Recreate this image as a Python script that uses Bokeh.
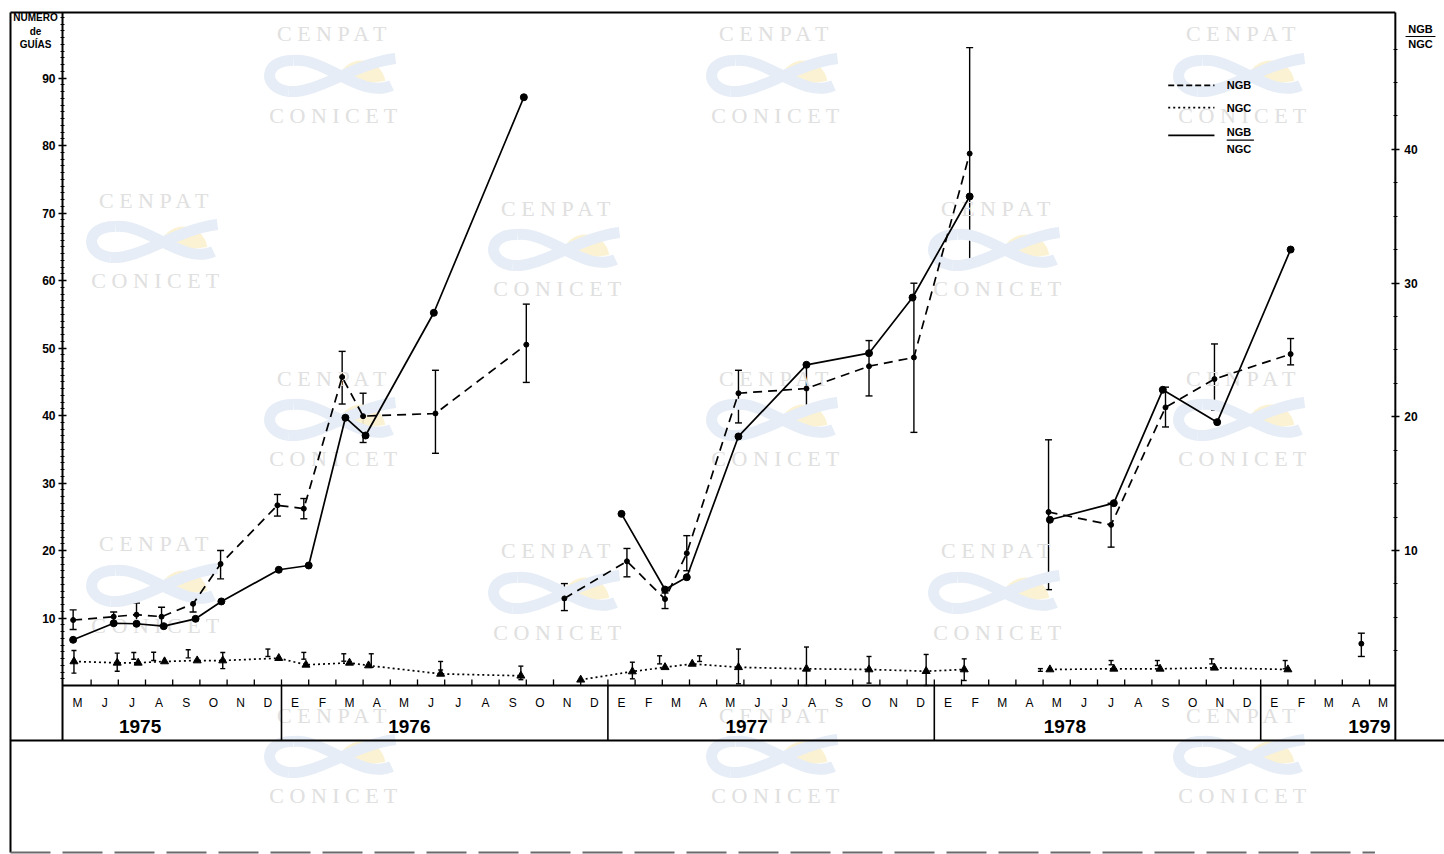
import math
from bokeh.plotting import figure
from bokeh.models import (Range1d, LinearAxis, FixedTicker, ColumnDataSource,
                          Whisker, TeeHead)
from bokeh.core.properties import value
from bokeh.embed import file_html
from bokeh.resources import INLINE

# ---------------- data  (x = months counted from May 1975) ----------------
month_labels = ["M", "J", "J", "A", "S", "O", "N", "D",
                "E", "F", "M", "A", "M", "J", "J", "A", "S", "O", "N", "D",
                "E", "F", "M", "A", "M", "J", "J", "A", "S", "O", "N", "D",
                "E", "F", "M", "A", "M", "J", "J", "A", "S", "O", "N", "D",
                "E", "F", "M", "A", "M"]
year_labels = ["1975", "1976", "1977", "1978", "1979"]
year_label_month = [2.3, 12.2, 24.6, 36.3, 47.5]
year_boundaries = [7.5, 19.5, 31.5, 43.5]

left_ticks = [10, 20, 30, 40, 50, 60, 70, 80, 90]
right_ticks = [10, 20, 30, 40]

# NGB (dashed, left axis) with error bars
ngb_a_x = [-0.16, 1.33, 2.17, 3.09, 4.25, 5.26, 7.35, 8.32, 9.73, 10.50, 13.16, 16.50]
ngb_a = [9.7, 10.2, 10.5, 10.2, 12.1, 18.0, 26.7, 26.2, 45.7, 39.9, 40.3, 50.5]
ngb_a_lo = [8.3, 9.1, 9.1, 8.9, 10.9, 15.8, 25.1, 24.7, 41.7, 36.0, 34.4, 44.9]
ngb_a_hi = [11.2, 10.9, 12.2, 11.6, 13.3, 20.0, 28.3, 27.7, 49.5, 43.3, 46.7, 56.5]

ngb_b_x = [17.90, 20.20, 21.60, 22.40, 24.30, 26.80, 29.10, 30.75, 32.80]
ngb_b = [12.9, 18.4, 12.8, 19.6, 43.3, 44.0, 47.3, 48.6, 78.8]
ngb_b_lo = [11.1, 16.1, 11.4, 17.0, 38.9, 41.2, 42.9, 37.5, 62.7]
ngb_b_hi = [15.1, 20.3, 13.7, 22.2, 46.7, 47.5, 51.1, 59.6, 94.5]

ngb_c_x = [35.70, 38.00, 40.00, 41.80, 44.60]
ngb_c = [25.7, 23.8, 41.2, 45.4, 49.1]
ngb_c_lo = [14.2, 20.5, 38.3, 40.8, 47.5]
ngb_c_hi = [36.4, 27.0, 44.2, 50.6, 51.4]

ngb_d_x = [47.20]
ngb_d = [6.2]
ngb_d_lo = [4.3]
ngb_d_hi = [7.75]

# NGB / NGC ratio (solid, right axis)
ratio_a_x = [-0.16, 1.33, 2.17, 3.17, 4.34, 5.29, 7.40, 8.50, 9.85, 10.59, 13.10, 16.41]
ratio_a = [3.32, 4.56, 4.52, 4.34, 4.89, 6.19, 8.56, 8.88, 19.93, 18.60, 27.78, 43.90]
ratio_b_x = [20.00, 21.60, 22.40, 24.30, 26.80, 29.10, 30.70, 32.80]
ratio_b = [12.74, 7.08, 8.00, 18.53, 23.89, 24.76, 28.92, 36.48]
ratio_c_x = [35.75, 38.10, 39.90, 41.90, 44.60]
ratio_c = [12.30, 13.54, 22.02, 19.60, 32.51]

# NGC (dotted, left axis)
ngc_a_x = [-0.13, 1.46, 2.23, 3.20, 4.40, 5.34, 7.40, 8.40, 10.00, 10.70, 13.35, 16.30]
ngc_a = [3.56, 3.36, 3.36, 3.56, 3.70, 3.70, 4.05, 3.06, 3.36, 2.96, 1.72, 1.44]
ngc_b_x = [18.50, 20.40, 21.60, 22.60, 24.30, 26.80, 29.10, 31.20, 32.60]
ngc_b = [0.85, 2.07, 2.70, 3.20, 2.70, 2.47, 2.37, 2.12, 2.37]
ngc_c_x = [35.75, 38.10, 39.80, 41.80, 44.50]
ngc_c = [2.37, 2.47, 2.47, 2.62, 2.37]
ngc_err_x = [-0.13, 1.46, 2.07, 2.80, 4.07, 5.34, 7.00, 8.32, 9.79, 10.80, 13.35, 16.30,
             20.40, 21.40, 22.87, 24.30, 26.80, 29.10, 31.20, 32.60,
             35.40, 38.00, 39.70, 41.70, 44.40]
ngc_err_lo = [1.83, 2.12, 3.90, 3.70, 4.10, 2.50, 4.30, 3.90, 3.60, 2.70, 2.30, 0.86,
              0.99, 3.20, 3.56, 0.25, 0.00, 0.35, 0.00, 0.74,
              2.10, 3.07, 2.96, 3.20, 2.47]
ngc_err_hi = [5.19, 4.79, 4.90, 4.93, 5.30, 4.90, 5.40, 4.90, 4.70, 4.70, 3.56, 2.87,
              3.45, 4.40, 4.40, 5.40, 5.70, 4.30, 4.60, 3.95,
              2.50, 3.70, 3.70, 3.95, 3.70]

legend_labels = ["NGB", "NGC"]
ratio_label_top = "NGB"
ratio_label_bottom = "NGC"
left_title = ["NUMERO", "de", "GUÍAS"]
watermark_texts = ["C E N P A T", "C O N I C E T"]

# ---------------- figure ----------------
FONT = "Liberation Sans"
PX = 27.2                       # pixels per month
PY = 6.75                       # pixels per left-axis unit
X0, X1 = -77 / PX, (1444 - 77) / PX
Y0, Y1 = (685 - 854) / PY, 685 / PY
AX_L, AX_R = -0.551, 48.45      # axis line positions (months)
TOP = 99.70                     # top border (left units)
TABLE_BOTTOM = -8.15            # bottom of month/year table
OUTER_L = (10 - 77) / PX        # outer left border
BOTTOM = -24.74

p = figure(width=1444, height=854, x_range=Range1d(X0, X1), y_range=Range1d(Y0, Y1),
           output_backend="svg", toolbar_location=None,
           x_axis_location=None, y_axis_location=None,
           min_border_left=0, min_border_right=0, min_border_top=0, min_border_bottom=0)
p.extra_y_ranges = {"right": Range1d((683.7 - 854) / 13.37, 683.7 / 13.37)}
p.grid.visible = False
p.outline_line_color = None
p.background_fill_color = "white"
p.border_fill_color = "white"

# --- faint watermarks (CENPAT / CONICET logos of the scan) ---
def X(px):
    return (px - 77) / PX

def Y(py):
    return (685 - py) / PY

wm_centres = []   # (centre x px, CENPAT y px, CONICET y px)
for cx in (333, 775, 1242):
    for (ya, yb) in ((33, 115), (378, 458), (715, 795)):
        wm_centres.append((cx, ya, yb))
for cx, (ya, yb) in [(155, (200, 280)), (557, (208, 288)), (997, (208, 288)),
                     (155, (543, 625)), (557, (550, 632)), (997, (550, 632))]:
    wm_centres.append((cx, ya, yb))

wx, wy, wt = [], [], []
bz = {k: [] for k in ("x0", "y0", "x1", "y1", "cx0", "cy0", "cx1", "cy1")}
sun_x, sun_y = [], []
# swoosh shape, pixel offsets from logo centre (x right, y down)
swoosh = [((62, -17), (-45, 16), (20, -12), (-15, 18)),
          ((-45, 16), (-40, -15), (-72, 12), (-70, -16)),
          ((-40, -15), (58, 10), (-8, -18), (28, 24))]
for cx, ya, yb in wm_centres:
    wx += [X(cx), X(cx)]; wy += [Y(ya), Y(yb)]; wt += watermark_texts
    cy = (ya + yb) / 2 + 1
    for (a, b, c0, c1) in swoosh:
        bz["x0"].append(X(cx + a[0])); bz["y0"].append(Y(cy + a[1]))
        bz["x1"].append(X(cx + b[0])); bz["y1"].append(Y(cy + b[1]))
        bz["cx0"].append(X(cx + c0[0])); bz["cy0"].append(Y(cy + c0[1]))
        bz["cx1"].append(X(cx + c1[0])); bz["cy1"].append(Y(cy + c1[1]))
    sun_x.append(X(cx + 28)); sun_y.append(Y(cy + 9))

p.wedge(x=sun_x, y=sun_y, radius=24, radius_units="screen", start_angle=0.15,
        end_angle=math.pi - 0.15, fill_color="#fbf1cf", line_color=None, fill_alpha=0.9)
p.bezier(line_color="#e6edf6", line_width=11, **bz)
p.text(x=wx, y=wy, text=wt, text_align="center", text_baseline="middle",
       text_font=value("Liberation Serif"), text_font_size="22px", text_color="#e0e0e0")

# --- frame / table lines ---
blk = "black"
p.segment(x0=[AX_L, AX_R, AX_L, OUTER_L, OUTER_L, OUTER_L],
          y0=[TABLE_BOTTOM, TABLE_BOTTOM, 0, TABLE_BOTTOM, TOP, BOTTOM],
          x1=[AX_L, AX_R, AX_R, X1, AX_R, OUTER_L],
          y1=[TOP, TOP, 0, TABLE_BOTTOM, TOP, TOP],
          line_color=blk, line_width=2)
p.segment(x0=[OUTER_L], y0=[BOTTOM], x1=[47.7], y1=[BOTTOM], line_color="#6a6a6a",
          line_width=2, line_dash="40 12")
p.segment(x0=year_boundaries, x1=year_boundaries, y0=[0] * 4, y1=[TABLE_BOTTOM] * 4,
          line_color=blk, line_width=1.6)
tick_pos = [m + 0.5 for m in range(48)]
p.segment(x0=tick_pos, x1=tick_pos, y0=[0] * 48, y1=[0.9] * 48, line_color=blk, line_width=1.3)

months = list(range(len(month_labels)))
p.text(x=months, y=[-2.6] * len(months), text=month_labels, text_align="center",
       text_baseline="middle", text_font=value(FONT), text_font_size="12px", text_color=blk)
p.text(x=year_label_month, y=[-6.05] * 5, text=year_labels, text_align="center",
       text_baseline="middle", text_font=value(FONT), text_font_style="bold",
       text_font_size="19px", text_color=blk)

# --- axes (drawn at fixed positions inside the canvas) ---
tick_font = dict(major_label_text_font=FONT, major_label_text_font_style="bold",
                 major_label_text_font_size="12px", major_label_text_color=blk)
ly = LinearAxis(ticker=FixedTicker(ticks=left_ticks, minor_ticks=list(range(1, 100))),
                fixed_location=AX_L, axis_line_color=None,
                major_tick_in=4, major_tick_out=4, minor_tick_in=2, minor_tick_out=2,
                major_tick_line_width=1.5, minor_tick_line_width=1,
                major_label_standoff=3, **tick_font)
p.add_layout(ly, "left")
ry = LinearAxis(y_range_name="right",
                ticker=FixedTicker(ticks=right_ticks, minor_ticks=[2.5 * k for k in range(1, 20)]),
                fixed_location=AX_R, axis_line_color=None,
                major_tick_in=4, major_tick_out=4, minor_tick_in=2, minor_tick_out=2,
                major_tick_line_width=1.5, minor_tick_line_width=1,
                major_label_standoff=5, **tick_font)
p.add_layout(ry, "right")

# --- series ---
LW = 1.7
for xs, ys in [(ngb_a_x, ngb_a), (ngb_b_x, ngb_b), (ngb_c_x, ngb_c)]:
    p.line(xs, ys, line_color=blk, line_width=LW, line_dash="9 6")
for xs, ys in [(ngc_a_x, ngc_a), (ngc_b_x, ngc_b), (ngc_c_x, ngc_c)]:
    p.line(xs, ys, line_color=blk, line_width=LW, line_dash="2 3")
for xs, ys in [(ratio_a_x, ratio_a), (ratio_b_x, ratio_b), (ratio_c_x, ratio_c)]:
    p.line(xs, ys, line_color=blk, line_width=LW, y_range_name="right")
    p.scatter(xs, ys, marker="circle", size=7, color=blk, y_range_name="right")

ngb_src = ColumnDataSource(dict(
    x=ngb_a_x + ngb_b_x + ngb_c_x + ngb_d_x,
    y=ngb_a + ngb_b + ngb_c + ngb_d,
    lo=ngb_a_lo + ngb_b_lo + ngb_c_lo + ngb_d_lo,
    hi=ngb_a_hi + ngb_b_hi + ngb_c_hi + ngb_d_hi))
p.add_layout(Whisker(source=ngb_src, base="x", lower="lo", upper="hi", dimension="height",
                     line_color=blk, line_width=1.4,
                     upper_head=TeeHead(size=7, line_width=1.4, line_color=blk),
                     lower_head=TeeHead(size=7, line_width=1.4, line_color=blk)))
p.scatter("x", "y", source=ngb_src, marker="circle", size=5, color=blk)

ngc_err_src = ColumnDataSource(dict(x=ngc_err_x, lo=ngc_err_lo, hi=ngc_err_hi))
p.add_layout(Whisker(source=ngc_err_src, base="x", lower="lo", upper="hi", dimension="height",
                     line_color=blk, line_width=1.4,
                     upper_head=TeeHead(size=5, line_width=1.4, line_color=blk),
                     lower_head=TeeHead(size=5, line_width=1.4, line_color=blk)))
p.scatter(ngc_a_x + ngc_b_x + ngc_c_x, ngc_a + ngc_b + ngc_c, marker="triangle",
          size=8, color=blk)

# --- legend (top right) ---
LEG_X0, LEG_X1, LEG_TX = 40.1, 41.8, 42.25
leg_y = [88.9, 85.6, 81.5]
p.line([LEG_X0, LEG_X1], [leg_y[0]] * 2, line_color=blk, line_width=LW, line_dash="6 3")
p.line([LEG_X0, LEG_X1], [leg_y[1]] * 2, line_color=blk, line_width=LW, line_dash="2 3")
p.line([LEG_X0, LEG_X1], [leg_y[2]] * 2, line_color=blk, line_width=LW)
p.text(x=[LEG_TX] * 4, y=[leg_y[0], leg_y[1], 82.0, 79.5],
       text=legend_labels + [ratio_label_top, ratio_label_bottom],
       text_baseline="middle", text_font=value(FONT), text_font_style="bold",
       text_font_size="11px", text_color=blk)
p.segment(x0=[LEG_TX], x1=[LEG_TX + 1.0], y0=[80.8], y1=[80.8], line_color=blk, line_width=1.2)

# --- axis headers ---
HX_L = X(35)
p.text(x=[HX_L] * 3, y=[98.9, 96.95, 95.0], text=left_title, text_align="center",
       text_baseline="middle", text_font=value(FONT), text_font_style="bold",
       text_font_size="10px", text_color=blk)
HX_R = X(1420)
p.text(x=[HX_R, HX_R], y=[97.3, 95.0], text=[ratio_label_top, ratio_label_bottom],
       text_align="center", text_baseline="middle", text_font=value(FONT),
       text_font_style="bold", text_font_size="11px", text_color=blk)
p.segment(x0=[HX_R - 0.55], x1=[HX_R + 0.55], y0=[96.15], y1=[96.15],
          line_color=blk, line_width=1.2)

open("out.html", "w").write(file_html(p, INLINE))
